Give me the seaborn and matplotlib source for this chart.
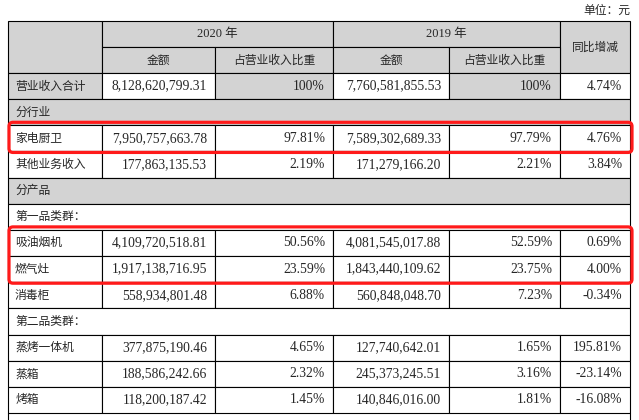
import numpy as np
import seaborn as sns
import matplotlib
matplotlib.use("Agg")
from matplotlib import pyplot as plt
from matplotlib.patches import Rectangle, FancyBboxPatch

sns.set_theme(style="white")
plt.rcParams["font.family"] = ["Noto Sans CJK SC", "DejaVu Sans"]

nan = np.nan
labels = ["营业收入合计", "分行业", "家电厨卫", "其他业务收入", "分产品", "第一品类群：",
          "吸油烟机", "燃气灶", "消毒柜", "第二品类群：", "蒸烤一体机", "蒸箱", "烤箱"]
# row kinds: total / section (gray band) / group (white band) / item
kinds = ["total", "section", "item", "item", "section", "group",
         "item", "item", "item", "group", "item", "item", "item"]
amount_2020 = [8128620799.31, nan, 7950757663.78, 177863135.53, nan, nan,
               4109720518.81, 1917138716.95, 558934801.48, nan,
               377875190.46, 188586242.66, 118200187.42]
share_2020 = [100, nan, 97.81, 2.19, nan, nan, 50.56, 23.59, 6.88, nan, 4.65, 2.32, 1.45]
amount_2019 = [7760581855.53, nan, 7589302689.33, 171279166.20, nan, nan,
               4081545017.88, 1843440109.62, 560848048.70, nan,
               127740642.01, 245373245.51, 140846016.00]
share_2019 = [100, nan, 97.79, 2.21, nan, nan, 52.59, 23.75, 7.23, nan, 1.65, 3.16, 1.81]
yoy = [4.74, nan, 4.76, 3.84, nan, nan, 0.69, 4.00, -0.34, nan, 195.81, -23.14, -16.08]
highlight_rows = [[2], [6, 7]]

header_top = ["", "2020 年", "2019 年", "同比增减"]
header_sub = ["金额", "占营业收入比重", "金额", "占营业收入比重"]

col_x = [8, 102, 215, 333, 449, 560, 630]
head_y = [21, 47, 73]
row_h = 26.15
gray = "#d3d3d3"
ink = "#262626"
line_kw = dict(color="black", lw=0.8)

fig = plt.figure(figsize=(6.39, 4.20), dpi=100)
ax = fig.add_axes([0, 0, 1, 1])
ax.set_xlim(0, 639)
ax.set_ylim(420, 0)
ax.axis("off")

num_font = ["Liberation Serif", "Noto Sans CJK SC"]
cjk_size = 8.5
num_size = 9.8


def cell(x0, x1, y0, y1, fill="white"):
    ax.add_patch(Rectangle((x0, y0), x1 - x0, y1 - y0, facecolor=fill,
                           edgecolor="black", lw=0.8, zorder=1))


def fmt_amt(v):
    return f"{v:,.2f}"


def fmt_pct(v):
    return "100%" if v == 100 else f"{v:.2f}%"


# header
ax.text(630, 10, "单位：元", ha="right", va="center", fontsize=cjk_size, color=ink)
cell(col_x[0], col_x[1], head_y[0], head_y[2], gray)
cell(col_x[1], col_x[3], head_y[0], head_y[1], gray)
cell(col_x[3], col_x[5], head_y[0], head_y[1], gray)
cell(col_x[5], col_x[6], head_y[0], head_y[2], gray)
for i in range(4):
    cell(col_x[i + 1], col_x[i + 2], head_y[1], head_y[2], gray)
    ax.text((col_x[i + 1] + col_x[i + 2]) / 2, (head_y[1] + head_y[2]) / 2,
            header_sub[i], ha="center", va="center", fontsize=cjk_size, color=ink)
for txt, (a, b) in zip(header_top[1:3], [(1, 3), (3, 5)]):
    ax.text((col_x[a] + col_x[b]) / 2, (head_y[0] + head_y[1]) / 2, txt,
            ha="center", va="center", fontsize=cjk_size + 0.5, color=ink, family=num_font)
ax.text((col_x[5] + col_x[6]) / 2, (head_y[0] + head_y[2]) / 2, header_top[3],
        ha="center", va="center", fontsize=cjk_size, color=ink)

# body
for r, lab in enumerate(labels):
    y0 = head_y[2] + r * row_h
    y1 = y0 + row_h
    ym = (y0 + y1) / 2
    kind = kinds[r]
    if kind in ("section", "group"):
        cell(col_x[0], col_x[-1], y0, y1, gray if kind == "section" else "white")
    else:
        fills = [gray, "white", gray, "white", gray, "white"] if kind == "total" else ["white"] * 6
        for c in range(6):
            cell(col_x[c], col_x[c + 1], y0, y1, fills[c])
        vals = [fmt_amt(amount_2020[r]), fmt_pct(share_2020[r]),
                fmt_amt(amount_2019[r]), fmt_pct(share_2019[r]), f"{yoy[r]:.2f}%"]
        for c, v in enumerate(vals):
            ax.text(col_x[c + 2] - 8, ym, v, ha="right", va="center",
                    fontsize=num_size, color=ink, family=num_font)
    ax.text(col_x[0] + 7, ym, lab, ha="left", va="center", fontsize=cjk_size, color=ink)

# table continues below the crop
last = head_y[2] + len(labels) * row_h
ax.plot([col_x[0], col_x[0]], [last, 420], **line_kw)
ax.plot([col_x[-1], col_x[-1]], [last, 420], **line_kw)

# red highlight boxes
for rows in highlight_rows:
    y0 = head_y[2] + rows[0] * row_h - 3
    y1 = head_y[2] + (rows[-1] + 1) * row_h + 1
    ax.add_patch(FancyBboxPatch((col_x[0] + 1, y0), col_x[-1] - col_x[0] + 1, y1 - y0,
                                boxstyle="round,pad=0,rounding_size=4",
                                facecolor="none", edgecolor="#ff1a1a", lw=2.3, zorder=5))

fig.savefig("out.png", dpi=100)
